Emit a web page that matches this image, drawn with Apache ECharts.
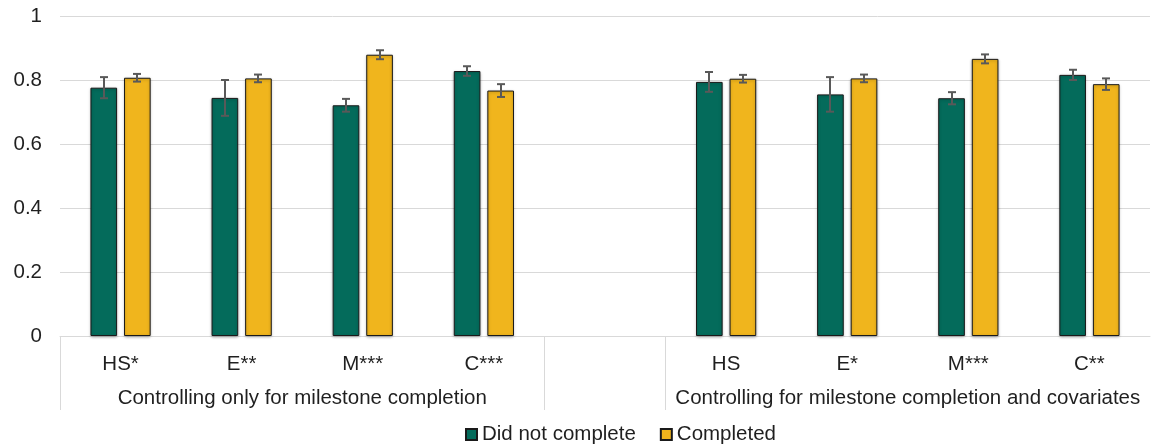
<!DOCTYPE html>
<html>
<head>
<meta charset="utf-8">
<script src="https://cdn.jsdelivr.net/npm/echarts@6/dist/echarts.min.js"></script>
<style>
  html, body { margin: 0; padding: 0; background: #fff; }
  #chart { width: 1152px; height: 446px; }
</style>
</head>
<body>
<div id="chart"></div>
<script>
// ---- data ----
const groupLabels = ['Controlling only for milestone completion', 'Controlling for milestone completion and covariates'];
const group1Categories = ['HS*', 'E**', 'M***', 'C***'];
const group2Categories = ['HS', 'E*', 'M***', 'C**'];
const seriesNames = ['Did not complete', 'Completed'];
const didNotComplete = [0.776, 0.744, 0.721, 0.828, 0.794, 0.755, 0.743, 0.816];
const completed      = [0.807, 0.805, 0.879, 0.767, 0.804, 0.805, 0.866, 0.787];
const didNotCompleteErr = [0.033, 0.056, 0.020, 0.015, 0.031, 0.054, 0.019, 0.016];
const completedErr      = [0.012, 0.012, 0.014, 0.020, 0.012, 0.012, 0.014, 0.018];
const yTicks = [0, 0.2, 0.4, 0.6, 0.8, 1];

// ---- build ----
const n1 = group1Categories.length, n2 = group2Categories.length;
const categories = [...group1Categories, '', ...group2Categories];
const total = categories.length;
function withGap(arr) { return [...arr.slice(0, n1), null, ...arr.slice(n1)]; }
const s1 = withGap(didNotComplete), s2 = withGap(completed);
const e1 = withGap(didNotCompleteErr), e2 = withGap(completedErr);
const groupCenters = [n1 / 2, n1 + 1 + n2 / 2];
const separators = [0, n1, n1 + 1];

const GREEN = '#046B5B', YELLOW = '#F0B51D';
const FONT = 'Liberation Sans, Arial, sans-serif';
const FS = 20.5;
const TXT = '#1f1f1f';
const BAR_W = 0.22, BAR_GAP = 0.26;

function errData(vals, errs) {
  const out = [];
  vals.forEach((v, i) => { if (v != null) out.push([i, v - errs[i], v + errs[i]]); });
  return out;
}
function errSeries(vals, errs, side) {
  return {
    type: 'custom',
    xAxisIndex: 0, yAxisIndex: 0,
    silent: true, z: 10,
    data: errData(vals, errs),
    renderItem: function (params, api) {
      const band = api.size([1, 0])[0];
      const bw = band * BAR_W, gap = bw * BAR_GAP;
      const off = side * (bw + gap) / 2;
      const lo = api.coord([api.value(0), api.value(1)]);
      const hi = api.coord([api.value(0), api.value(2)]);
      const x = Math.round(lo[0] + off);
      const cw = 4;
      const style = { stroke: '#595959', lineWidth: 2 };
      return {
        type: 'group',
        children: [
          { type: 'line', shape: { x1: x, y1: lo[1], x2: x, y2: hi[1] }, style },
          { type: 'line', shape: { x1: x - cw, y1: lo[1], x2: x + cw, y2: lo[1] }, style },
          { type: 'line', shape: { x1: x - cw, y1: hi[1], x2: x + cw, y2: hi[1] }, style }
        ]
      };
    }
  };
}

const barStyle = (c) => ({
  color: c, borderColor: '#1a1a1a', borderWidth: 1,
  shadowColor: 'rgba(0,0,0,0.28)', shadowBlur: 3, shadowOffsetY: 1
});

const chart = echarts.init(document.getElementById('chart'), null, { renderer: 'canvas' });
chart.setOption({
  animation: false,
  textStyle: { fontFamily: FONT },
  grid: { left: 60, right: 2, top: 16, bottom: 110, containLabel: false },
  legend: {
    data: seriesNames,
    left: 465, top: 424, padding: 0,
    itemWidth: 11, itemHeight: 11, itemGap: 24,
    icon: 'rect',
    textStyle: { fontSize: FS, color: TXT, fontFamily: FONT }
  },
  xAxis: [
    {
      type: 'category', position: 'bottom',
      data: categories,
      axisLine: { show: true, lineStyle: { color: '#d9d9d9', width: 1 } },
      axisTick: { show: false },
      axisLabel: { fontSize: FS, color: TXT, margin: 18, interval: 0, fontFamily: FONT }
    },
    {
      type: 'value', position: 'bottom',
      min: 0, max: total,
      axisLine: { show: false },
      splitLine: { show: false },
      axisTick: { show: true, customValues: separators, length: 74, lineStyle: { color: '#d9d9d9', width: 1 } },
      axisLabel: {
        show: true, customValues: groupCenters, margin: 52, fontSize: FS, color: TXT, fontFamily: FONT,
        formatter: (v) => groupLabels[groupCenters.indexOf(v)] || ''
      }
    }
  ],
  yAxis: {
    type: 'value', min: yTicks[0], max: yTicks[yTicks.length - 1], interval: yTicks[1] - yTicks[0],
    axisLine: { show: false }, axisTick: { show: false },
    splitLine: { lineStyle: { color: '#d9d9d9', width: 1 } },
    axisLabel: { fontSize: FS, color: TXT, margin: 18, fontFamily: FONT }
  },
  series: [
    { name: seriesNames[0], type: 'bar', xAxisIndex: 0, data: s1, barWidth: (BAR_W * 100) + '%', barGap: (BAR_GAP * 100) + '%', itemStyle: barStyle(GREEN) },
    { name: seriesNames[1], type: 'bar', xAxisIndex: 0, data: s2, barWidth: (BAR_W * 100) + '%', barGap: (BAR_GAP * 100) + '%', itemStyle: barStyle(YELLOW) },
    errSeries(s1, e1, -1),
    errSeries(s2, e2, 1)
  ]
});
</script>
</body>
</html>
